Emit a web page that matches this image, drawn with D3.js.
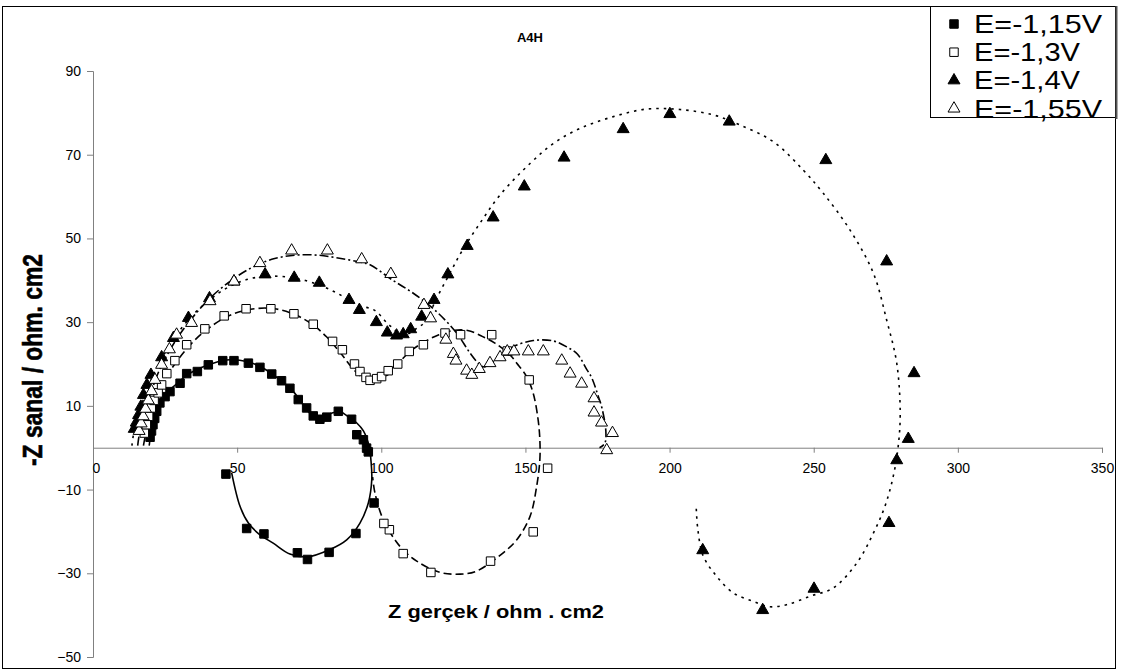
<!DOCTYPE html>
<html><head><meta charset="utf-8">
<script src="https://cdn.jsdelivr.net/npm/d3@7"></script>
<style>body{margin:0;background:#fff}svg{display:block}text{font-family:"Liberation Sans",Arial,sans-serif}</style>
</head><body>
<svg id="c" width="1126" height="671"></svg>
<script>
// ---- data (Z' , -Z'') ----
const seriesNames = ["E=-1,15V","E=-1,3V","E=-1,4V","E=-1,55V"];
const xTicks = [0,50,100,150,200,250,300,350];
const yTicks = [-50,-30,-10,10,30,50,70,90];

const s1 = [[19.8,2.5],[20.3,4],[20.8,5.5],[21.4,7],[22.1,8.7],[23.2,10.7],[25.0,12.2],[26.7,13.4],[30.2,15.4],[32.5,17.7],[36.2,18.2],[40.0,19.8],[45.0,20.8],[48.9,20.8],[53.9,20.2],[57.9,19.2],[62.0,17.6],[65.4,16.0],[68.3,14.2],[71.2,11.5],[74.1,9.5],[76.4,7.6],[78.7,6.8],[81.1,7.3],[85.1,8.7],[89.7,6.8],[91.5,3.1],[93.8,1.9],[94.9,-0.1],[95.5,-1.0],[97.5,-13.2],[91.2,-20.5],[81.9,-25.0],[74.4,-26.7],[70.9,-25.1],[59.3,-20.6],[53.3,-19.3],[46.1,-6.3]];
const s2 = [[17.8,3.5],[18.5,5.5],[19.3,7.5],[20.2,9.5],[21.2,11.3],[22.6,13.1],[23.8,15.0],[25.6,17.7],[28.4,20.8],[32.5,24.6],[38.8,28.4],[45.5,31.5],[53.1,33.2],[61.7,33.2],[69.7,32.0],[76.4,29.5],[83.1,25.4],[86.5,23.4],[90.7,20.0],[92.6,18.2],[94.7,16.8],[96.1,16.1],[98.4,16.5],[100.1,17.0],[102.4,18.4],[105.7,20.0],[109.7,23.0],[114.6,24.6],[122.1,27.4],[127.5,27.0],[138.3,27.0],[143.7,23.1],[151.3,16.2],[157.7,-4.9],[152.7,-20.1],[137.9,-27.1],[117.2,-29.8],[107.6,-25.3],[102.8,-19.6],[100.9,-18.1]];
const s3 = [[14.3,4.5],[15.0,6.0],[15.8,7.8],[16.6,9.8],[17.5,12.6],[18.7,15.0],[20.1,17.4],[23.8,21.6],[27.9,26.2],[33.1,31.0],[40.4,35.7],[48.9,39.7],[59.7,41.4],[69.8,40.6],[78.5,39.4],[88.8,35.3],[92.4,32.9],[98.3,30.0],[102.1,27.5],[105.3,26.8],[107.6,27.1],[110.2,28.3],[114.0,31.3],[118.3,35.3],[123.1,41.4],[129.8,48.2],[138.8,55.0],[149.6,62.4],[163.4,69.3],[183.9,76.1],[200.1,79.7],[220.7,77.9],[254.2,68.7],[275.3,44.5],[284.8,17.8],[282.8,2.1],[278.8,-3.0],[276.1,-18.0],[250.1,-33.7],[232.3,-38.8],[211.5,-24.5]];
const s4 = [[16.0,4.0],[16.7,5.8],[17.4,7.5],[18.2,9.3],[19.2,11.3],[20.3,13.5],[21.5,16.2],[23.8,19.8],[26.5,23.5],[29.0,27.0],[34.2,29.8],[40.6,35.0],[48.9,39.7],[57.9,44.1],[68.9,47.1],[81.3,47.1],[93.2,45.0],[103.3,41.5],[114.8,34.1],[117.1,30.9],[122.4,25.8],[125.0,22.4],[125.9,20.8],[129.6,18.4],[131.4,17.4],[134.0,18.8],[137.7,20.2],[141.2,21.6],[143.7,23.0],[146.0,23.0],[151.0,23.0],[156.2,23.0],[162.6,20.8],[165.5,17.7],[169.5,15.3],[173.8,11.8],[173.8,8.4],[176.4,6.0],[180.2,3.5],[178.2,-0.6]];

// fitted curves
const fit1 = [[19.5,0.5],[20,3],[21,6],[22.1,9.9],[24.5,12.5],[27.9,14.6],[33.6,17.8],[41.7,20.2],[47.5,21],[53.3,20.6],[59.1,19],[64.9,16.2],[69.5,13.4],[72.9,10.3],[75.3,8.2],[78.7,7.1],[82.2,8.1],[85.7,8.6],[89.1,7.1],[91.5,5.9],[93.8,4.0],[95.8,0.3],[96.4,-2.9],[96.7,-7.6],[95.5,-13.2],[92.6,-18],[88,-22],[82.2,-24.3],[74.1,-26.1],[68.3,-25.4],[62.5,-22.8],[57.9,-20.8],[53.9,-18],[51,-14],[48.1,-6.0]];
const fit2 = [[17.5,0.5],[18.2,3],[19.5,6.5],[21,10],[23,13.5],[26,17.5],[30,21.5],[35,25.5],[41,29],[48,31.8],[56,33.2],[63,33.2],[70,31.8],[76,29.5],[81,26.5],[86,22.5],[90,19],[93,17],[96,16],[99,16.3],[103,17.8],[106,20.2],[110,23],[115,25.3],[120,27],[125,28],[130,28],[135,26.6],[139.4,25],[144.6,22.2],[147,20.2],[150.4,17],[152.7,13],[154.4,6.7],[155,1.9],[155,-2.9],[153.9,-9.2],[151.6,-16.4],[147,-22],[142.3,-25.1],[133,-29.5],[127.3,-30.2],[120.4,-29.8],[112.3,-27.1],[106.5,-23.6],[100.7,-17.2],[97.8,-10.8],[97,-7]];
const fit3 = [[13.5,0.5],[14,3],[15,6],[16.5,9.5],[18.5,13.5],[21,17.5],[24,21.5],[28,26],[33,30.5],[39,34.5],[46,38],[54,40.3],[62,41],[70,40.5],[78,39],[85,36.8],[92,34],[96.1,33.3],[98.4,32.5],[101,30.5],[103.3,29],[107.6,26.9],[112.3,28.5],[115.2,30.1],[119.2,35.7],[123.8,41.7],[127.9,46.9],[134.2,53.6],[141.2,60.4],[151.6,67.9],[159.7,72.7],[169,76.3],[180.5,79.1],[192,80.9],[203.6,80.8],[215.2,79.5],[224.4,77.1],[236,73.1],[246.4,66.3],[253.3,60.8],[262.6,52],[270.7,41.7],[275.3,30.5],[278.8,20.2],[280,8.3],[279.3,0.3],[277.6,-6.8],[274.7,-14],[270.7,-20.4],[265,-27.5],[256.8,-33.5],[248.7,-35.5],[240.6,-37.5],[234.8,-38],[229,-36.7],[222.1,-34.7],[216.3,-30.7],[211.7,-25.9],[209.8,-19.5],[209.2,-13.5]];
const fit4 = [[15.5,0.5],[16,3],[17,6.5],[18.5,10],[20.5,14],[23,18.5],[26,22.5],[30,27],[35,31.5],[41,36],[48,40],[55,43],[62,45],[70,46],[78,46],[86,45.2],[93,44.3],[96.1,43.7],[104,40],[111.1,36.9],[119.2,32.5],[126.1,27.4],[130.8,22.6],[134.2,19.8],[135.7,19.3],[137.1,19.8],[142.3,22.2],[146,24.2],[152.7,25.6],[159.7,25.5],[164.8,23.9],[168,22.4],[171,19],[173,16.7],[175.4,12],[176.5,9.6],[177.9,3.9],[177.5,1],[175.7,0]];

// ---- drawing ----
const svg = d3.select("#c");
const x = d3.scaleLinear().domain([0,350]).range([93,1102]);
const y = d3.scaleLinear().domain([-50,90]).range([657,71]);
const AX = "#808080";

// chart frame
svg.append("rect").attr("x",2.5).attr("y",6.5).attr("width",1113).attr("height",662)
  .attr("fill","none").attr("stroke","#000").attr("stroke-width",1);

// y axis
const yAxis = d3.axisLeft(y).tickValues(yTicks).tickSize(6).tickPadding(6).tickFormat(d3.format("d"));
const gy = svg.append("g").attr("transform",`translate(${x(0)},0)`).call(yAxis);
gy.select(".domain").attr("stroke",AX);
gy.selectAll(".tick line").attr("stroke",AX);
gy.selectAll(".tick text").attr("font-size",14).attr("fill","#000").attr("font-family","Liberation Sans, Arial");

// x axis at y=0
const xAxis = d3.axisBottom(x).tickValues(xTicks).tickSize(5).tickPadding(10).tickFormat(d3.format("d"));
const gx = svg.append("g").attr("transform",`translate(0,${y(0)})`).call(xAxis);
gx.select(".domain").attr("stroke",AX);
gx.selectAll(".tick line").attr("stroke",AX);
gx.selectAll(".tick text").attr("font-size",14).attr("fill","#000").attr("font-family","Liberation Sans, Arial");
gx.selectAll(".tick text").filter(d=>d===0).attr("dx",3);

// titles
svg.append("text").attr("x",530).attr("y",42).attr("text-anchor","middle")
  .attr("font-size",13).attr("font-weight","bold").text("A4H");
svg.append("text").attr("x",496).attr("y",618).attr("text-anchor","middle")
  .attr("font-size",18).attr("font-weight","bold").attr("textLength",216).attr("lengthAdjust","spacingAndGlyphs")
  .text("Z gerçek / ohm . cm2");
svg.append("text").attr("transform","translate(42,360) rotate(-90)").attr("text-anchor","middle")
  .attr("font-size",28).attr("font-weight","bold").attr("textLength",212).attr("lengthAdjust","spacingAndGlyphs")
  .attr("stroke","#000").attr("stroke-width",0.6)
  .text("-Z sanal / ohm. cm2");

// curves
const line = d3.line().x(d=>x(d[0])).y(d=>y(d[1])).curve(d3.curveCatmullRom.alpha(0.5));
const fits = [
  {d:fit1, dash:null},
  {d:fit2, dash:"8,4"},
  {d:fit3, dash:"2.5,5"},
  {d:fit4, dash:"9,3,2,3"}
];
fits.forEach(f=>{
  svg.append("path").attr("d",line(f.d)).attr("fill","none").attr("stroke","#000")
    .attr("stroke-width",1.6).attr("stroke-dasharray",f.dash);
});

// markers
const sq = d3.symbol().type(d3.symbolSquare).size(72);
const tri = d3.symbol().type(d3.symbolTriangle).size(62);
const series = [
  {d:s1, sym:sq, fill:"#000"},
  {d:s2, sym:sq, fill:"#fff"},
  {d:s3, sym:tri, fill:"#000"},
  {d:s4, sym:tri, fill:"#fff"}
];
series.forEach(s=>{
  svg.append("g").selectAll("path").data(s.d).join("path")
    .attr("transform",d=>`translate(${x(d[0])},${y(d[1])})`)
    .attr("d",s.sym()).attr("fill",s.fill).attr("stroke","#000").attr("stroke-width",1);
});

// legend
const lg = svg.append("g");
lg.append("rect").attr("x",930.5).attr("y",6.5).attr("width",185).attr("height",111)
  .attr("fill","#fff").attr("stroke","#000").attr("stroke-width",1);
lg.append("line").attr("x1",1116.5).attr("x2",1116.5).attr("y1",6).attr("y2",119)
  .attr("stroke","#555").attr("stroke-width",2);
const legSyms = [sq, sq, tri, tri];
const legFill = ["#000","#fff","#000","#fff"];
const legW = [128, 106, 106, 128];
seriesNames.forEach((n,i)=>{
  const cy = 24 + i*28.2;
  lg.append("path").attr("transform",`translate(954,${cy})`).attr("d",legSyms[i]())
    .attr("fill",legFill[i]).attr("stroke","#000").attr("stroke-width",1);
  lg.append("text").attr("x",974).attr("y",cy+9).attr("font-size",25)
    .attr("textLength",legW[i]).attr("lengthAdjust","spacingAndGlyphs").text(n);
});
</script>
</body></html>
